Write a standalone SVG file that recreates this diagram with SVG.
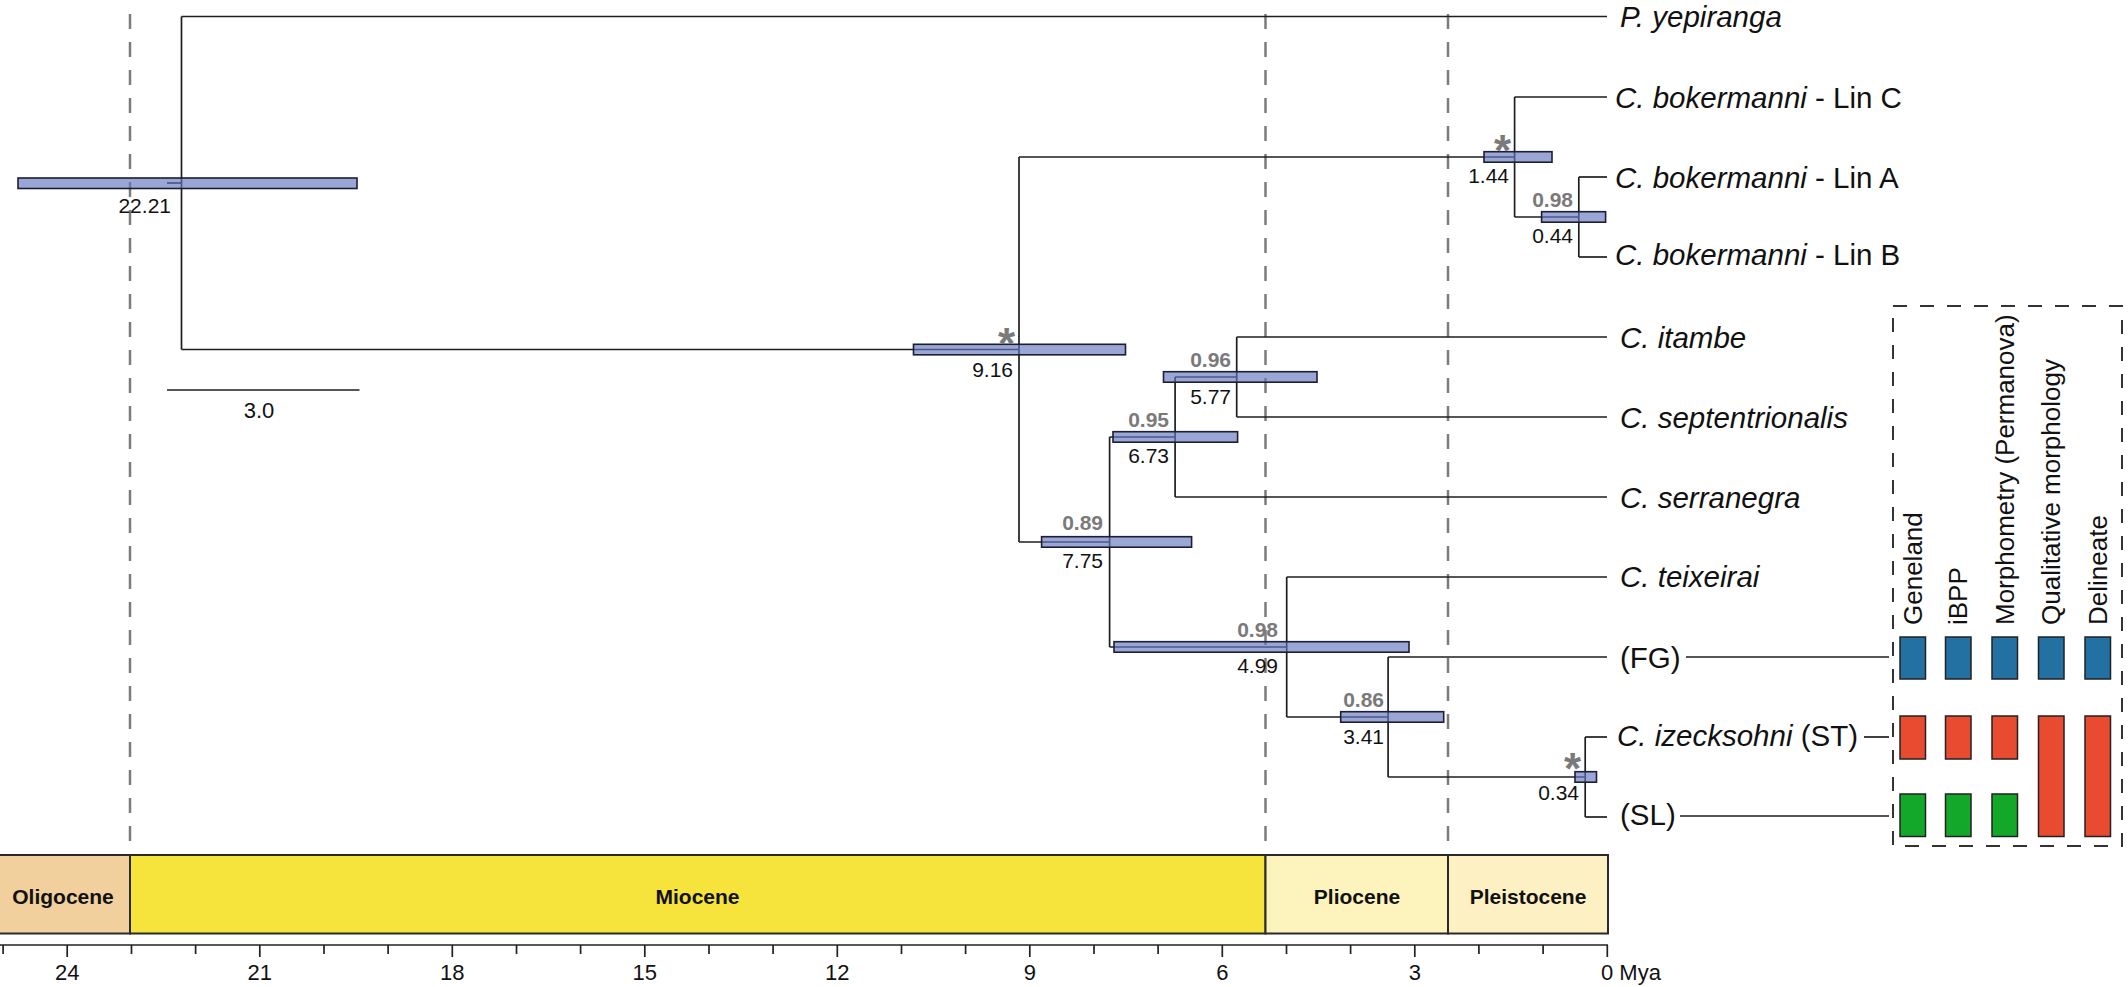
<svg xmlns="http://www.w3.org/2000/svg" width="2128" height="987" viewBox="0 0 2128 987">
<style>
text{font-family:"Liberation Sans",Arial,sans-serif;fill:#111}
.br{stroke:#1e1e1e;stroke-width:1.7;fill:none}
.bar{fill:rgb(100,118,190);fill-opacity:0.65;stroke:#1c1f33;stroke-width:1.6}
.pp{font-size:21px;font-weight:bold;fill:#7a7a7a;text-anchor:end}
.age{font-size:21px;text-anchor:end}
.ast{font-size:44px;font-weight:bold;fill:#7a7a7a;text-anchor:end}
.tip{font-size:29.5px}
.it{font-style:italic}
.ep{font-size:21px;font-weight:bold;text-anchor:middle}
.tk{font-size:22px;text-anchor:middle}
.vd{stroke:#7c7c7c;stroke-width:2.5;stroke-dasharray:15 13}
.lg{font-size:26px}
.bx{stroke:#222;stroke-width:1.5}
.blue{fill:#2371a3}.red{fill:#e94b30}.green{fill:#14a82b}
</style>

<g id="epoch-dividers">
<line class="vd" x1="130" y1="14" x2="130" y2="855"/>
<line class="vd" x1="1265.5" y1="14" x2="1265.5" y2="855"/>
<line class="vd" x1="1448" y1="14" x2="1448" y2="855"/>
</g>

<g id="connectors">
<line class="br" x1="181.5" y1="16.5" x2="181.5" y2="349.5"/>
<line class="br" x1="167" y1="183" x2="181.5" y2="183"/>
<line class="br" x1="181.5" y1="16.5" x2="1607" y2="16.5"/>
<line class="br" x1="181.5" y1="349.5" x2="1019" y2="349.5"/>
<line class="br" x1="1019" y1="157" x2="1019" y2="542"/>
<line class="br" x1="1019" y1="157" x2="1514.6" y2="157"/>
<line class="br" x1="1019" y1="542" x2="1109.6" y2="542"/>
<line class="br" x1="1514.6" y1="97" x2="1514.6" y2="217"/>
<line class="br" x1="1514.6" y1="97" x2="1607" y2="97"/>
<line class="br" x1="1514.6" y1="217" x2="1578.8" y2="217"/>
<line class="br" x1="1578.8" y1="177" x2="1578.8" y2="257"/>
<line class="br" x1="1578.8" y1="177" x2="1607" y2="177"/>
<line class="br" x1="1578.8" y1="257" x2="1607" y2="257"/>
<line class="br" x1="1109.6" y1="437" x2="1109.6" y2="647"/>
<line class="br" x1="1109.6" y1="437" x2="1175.1" y2="437"/>
<line class="br" x1="1109.6" y1="647" x2="1286.7" y2="647"/>
<line class="br" x1="1175.1" y1="377" x2="1175.1" y2="497"/>
<line class="br" x1="1175.1" y1="377" x2="1236.7" y2="377"/>
<line class="br" x1="1175.1" y1="497" x2="1607" y2="497"/>
<line class="br" x1="1236.7" y1="337" x2="1236.7" y2="417"/>
<line class="br" x1="1236.7" y1="337" x2="1607" y2="337"/>
<line class="br" x1="1236.7" y1="417" x2="1607" y2="417"/>
<line class="br" x1="1286.7" y1="577" x2="1286.7" y2="717"/>
<line class="br" x1="1286.7" y1="577" x2="1607" y2="577"/>
<line class="br" x1="1286.7" y1="717" x2="1388.1" y2="717"/>
<line class="br" x1="1388.1" y1="657" x2="1388.1" y2="777"/>
<line class="br" x1="1388.1" y1="657" x2="1607" y2="657"/>
<line class="br" x1="1388.1" y1="777" x2="1585.2" y2="777"/>
<line class="br" x1="1585.2" y1="737" x2="1585.2" y2="817"/>
<line class="br" x1="1585.2" y1="737" x2="1607" y2="737"/>
<line class="br" x1="1585.2" y1="817" x2="1607" y2="817"/>
<line class="br" x1="1686" y1="657" x2="1889" y2="657"/>
<line class="br" x1="1864" y1="737" x2="1889" y2="737"/>
<line class="br" x1="1680" y1="816" x2="1889" y2="816"/>
<line class="br" x1="167" y1="390" x2="359.5" y2="390"/>
</g>

<g id="node-root">
<rect class="bar" x="18" y="178" width="339" height="10.5"/>
<text class="age" x="171" y="213">22.21</text>
</g>
<g id="node-916">
<rect class="bar" x="913.5" y="344.3" width="212" height="10.5"/>
<text class="ast" x="1015" y="359">*</text>
<text class="age" x="1013" y="377">9.16</text>
</g>
<g id="node-144">
<rect class="bar" x="1484" y="151.7" width="68" height="10.5"/>
<text class="ast" x="1511" y="166">*</text>
<text class="age" x="1509" y="183">1.44</text>
</g>
<g id="node-044">
<rect class="bar" x="1541.6" y="211.7" width="64" height="10.5"/>
<text class="pp" x="1573" y="207">0.98</text>
<text class="age" x="1573" y="243">0.44</text>
</g>
<g id="node-775">
<rect class="bar" x="1041.6" y="536.7" width="150" height="10.5"/>
<text class="pp" x="1103" y="530">0.89</text>
<text class="age" x="1103" y="568">7.75</text>
</g>
<g id="node-673">
<rect class="bar" x="1113" y="431.7" width="124.6" height="10.5"/>
<text class="pp" x="1169" y="427">0.95</text>
<text class="age" x="1169" y="463">6.73</text>
</g>
<g id="node-577">
<rect class="bar" x="1163.5" y="371.7" width="153.5" height="10.5"/>
<text class="pp" x="1231" y="367">0.96</text>
<text class="age" x="1231" y="404">5.77</text>
</g>
<g id="node-499">
<rect class="bar" x="1114" y="641.7" width="295" height="10.5"/>
<text class="pp" x="1278" y="637">0.98</text>
<text class="age" x="1278" y="673">4.99</text>
</g>
<g id="node-341">
<rect class="bar" x="1340.7" y="711.7" width="103" height="10.5"/>
<text class="pp" x="1384" y="707">0.86</text>
<text class="age" x="1384" y="744">3.41</text>
</g>
<g id="node-034">
<rect class="bar" x="1575" y="771.7" width="21.5" height="10.5"/>
<text class="ast" x="1581" y="784">*</text>
<text class="age" x="1579" y="800">0.34</text>
</g>

<g id="scale-bar">
<text class="tk" x="259" y="418">3.0</text>
</g>

<g id="tips">
<text class="tip it" x="1620" y="27">P. yepiranga</text>
<text class="tip" x="1615" y="107.5"><tspan class="it">C. bokermanni</tspan> - Lin C</text>
<text class="tip" x="1615" y="187.5"><tspan class="it">C. bokermanni</tspan> - Lin A</text>
<text class="tip" x="1615" y="264.5"><tspan class="it">C. bokermanni</tspan> - Lin B</text>
<text class="tip it" x="1620" y="347.5">C. itambe</text>
<text class="tip it" x="1620" y="427.5">C. septentrionalis</text>
<text class="tip it" x="1620" y="507.5">C. serranegra</text>
<text class="tip it" x="1620" y="587">C. teixeirai</text>
<text class="tip" x="1620" y="668">(FG)</text>
<text class="tip" x="1617" y="746"><tspan class="it">C. izecksohni</tspan> (ST)</text>
<text class="tip" x="1620" y="825">(SL)</text>
</g>

<g id="legend">
<rect x="1893" y="306" width="229" height="540" fill="none" stroke="#333" stroke-width="2" stroke-dasharray="14 13"/>
<text class="lg" transform="translate(1922,625) rotate(-90)">Geneland</text>
<text class="lg" transform="translate(1967,625) rotate(-90)">iBPP</text>
<text class="lg" transform="translate(2013.5,625) rotate(-90)">Morphometry (Permanova)</text>
<text class="lg" transform="translate(2060,625) rotate(-90)">Qualitative morphology</text>
<text class="lg" transform="translate(2106.5,625) rotate(-90)">Delineate</text>
<rect class="bx blue" x="1900" y="637" width="25.5" height="42"/>
<rect class="bx blue" x="1945.5" y="637" width="25.5" height="42"/>
<rect class="bx blue" x="1992" y="637" width="25.5" height="42"/>
<rect class="bx blue" x="2038.5" y="637" width="25.5" height="42"/>
<rect class="bx blue" x="2085" y="637" width="25.5" height="42"/>
<rect class="bx red" x="1900" y="716" width="25.5" height="43"/>
<rect class="bx red" x="1945.5" y="716" width="25.5" height="43"/>
<rect class="bx red" x="1992" y="716" width="25.5" height="43"/>
<rect class="bx red" x="2038.5" y="716" width="25.5" height="120.5"/>
<rect class="bx red" x="2085" y="716" width="25.5" height="120.5"/>
<rect class="bx green" x="1900" y="794" width="25.5" height="42.5"/>
<rect class="bx green" x="1945.5" y="794" width="25.5" height="42.5"/>
<rect class="bx green" x="1992" y="794" width="25.5" height="42.5"/>
</g>

<g id="timescale">
<rect x="-2" y="855" width="132" height="78.5" fill="#f1d09e" stroke="#2a2a2a" stroke-width="2"/>
<rect x="130" y="855" width="1135.5" height="78.5" fill="#f6e33c" stroke="#2a2a2a" stroke-width="2"/>
<rect x="1265.5" y="855" width="182.5" height="78.5" fill="#fdf4bd" stroke="#2a2a2a" stroke-width="2"/>
<rect x="1448" y="855" width="160" height="78.5" fill="#fdf1c4" stroke="#2a2a2a" stroke-width="2"/>
<text class="ep" x="63" y="904">Oligocene</text>
<text class="ep" x="697.5" y="904">Miocene</text>
<text class="ep" x="1357" y="904">Pliocene</text>
<text class="ep" x="1528" y="904">Pleistocene</text>
</g>

<g id="axis" stroke="#222" stroke-width="1.7">
<line x1="0" y1="945" x2="1608" y2="945"/>
<path d="M1607.3 945v12M1543.1 945v9M1478.9 945v9M1414.8 945v12M1350.6 945v9M1286.5 945v9M1222.3 945v12M1158.1 945v9M1094 945v9M1029.8 945v12M965.6 945v9M901.5 945v9M837.3 945v12M773.1 945v9M709 945v9M644.8 945v12M580.6 945v9M516.5 945v9M452.3 945v12M388.1 945v9M324 945v9M259.8 945v12M195.6 945v9M131.5 945v9M67.2 945v12M3.1 945v9" fill="none"/>
</g>
<g id="axis-labels">
<text class="tk" x="67.2" y="980">24</text>
<text class="tk" x="259.8" y="980">21</text>
<text class="tk" x="452.3" y="980">18</text>
<text class="tk" x="644.8" y="980">15</text>
<text class="tk" x="837.3" y="980">12</text>
<text class="tk" x="1029.8" y="980">9</text>
<text class="tk" x="1222.3" y="980">6</text>
<text class="tk" x="1414.8" y="980">3</text>
<text x="1601" y="980" font-size="22">0 Mya</text>
</g>
</svg>
